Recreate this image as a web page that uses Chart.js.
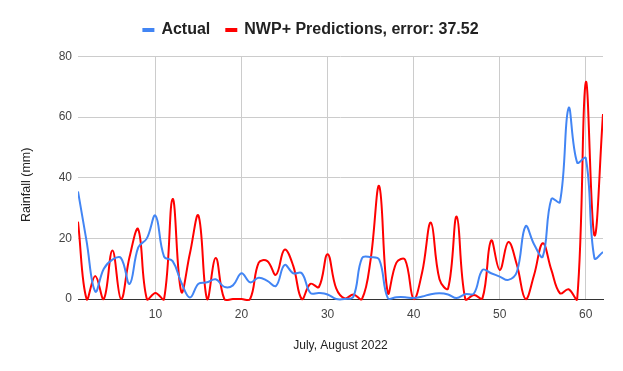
<!DOCTYPE html>
<html>
<head>
<meta charset="utf-8">
<script src="https://cdn.jsdelivr.net/npm/chart.js@4.4.1/dist/chart.umd.min.js"></script>
<style>
  html, body { margin: 0; padding: 0; background: #fff; }
  #wrap { width: 623px; height: 371px; position: relative; }
</style>
</head>
<body>
<div id="wrap"><canvas id="c" width="623" height="371"></canvas></div>
<script>
const days = [1,2,3,4,5,6,7,8,9,10,11,12,13,14,15,16,17,18,19,20,21,22,23,24,25,26,27,28,29,30,31,32,33,34,35,36,37,38,39,40,41,42,43,44,45,46,47,48,49,50,51,52,53,54,55,56,57,58,59,60,61,62];
const actual = [35.5,19,2.5,10,13,13.5,5,17,20,27.5,14,12.5,5.5,0.5,5,5.5,6.5,4,4.5,8.5,5.5,7,6,4.3,11.2,8.5,8.5,2,2,1.5,0,0,0.8,13.5,13.8,13,0.3,0.6,0.6,0.3,0.8,1.6,1.9,1.5,0.3,1.6,1.8,9.6,8.5,7.4,6.3,9,24,18,14,33,32,63,45,46.5,13.5,15.5];
const predicted = [25.5,0,7.6,0,16,0,14,23,0,2,0,33,2.4,15,27.5,0,13.5,0,0,0,0,12,12.5,8,16.3,11,0,5,4,14.8,3.5,0.2,1.5,0,13,37.2,2,12,13,0,9,25.2,6.5,3.5,27.2,0,1.3,0.3,19.3,9.6,18.8,11.2,0,8,18.4,9.6,1.9,3.2,0,71.5,21,61];
const seriesNames = ['Actual', 'NWP+ Predictions, error: 37.52'];
const xTicks = [10,20,30,40,50,60];
const yTicks = [0,20,40,60,80];
const xTitle = 'July, August 2022';
const yTitle = 'Rainfall (mm)';

const toPoints = vals => days.map((d, i) => ({x: d, y: vals[i]}));
const FONT = "'Liberation Sans', Arial, sans-serif";

const layoutTweaks = {
  id: 'layoutTweaks',
  beforeLayout(chart) {
    const lg = chart.legend;
    if (lg && !lg._patched) {
      const f = lg.fit;
      lg.fit = function() { f.call(this); this.height += 8.5; };
      lg._patched = true;
    }
  },
  afterLayout(chart) {
    const lg = chart.legend;
    if (lg) { lg.left += 9.5; lg.right += 9.5; }
    const y = chart.scales.y;
    if (y) { y.top += 7; y.bottom += 7; }
  }
};

new Chart(document.getElementById('c'), {
  type: 'line',
  data: {
    datasets: [
      { label: seriesNames[0], data: toPoints(actual), borderColor: '#4285f4', backgroundColor: '#4285f4', borderWidth: 2, pointRadius: 0, tension: 0.4, capBezierPoints: false, fill: false },
      { label: seriesNames[1], data: toPoints(predicted), borderColor: '#ff0000', backgroundColor: '#ff0000', borderWidth: 2, pointRadius: 0, tension: 0.4, capBezierPoints: false, fill: false }
    ]
  },
  options: {
    responsive: false,
    animation: false,
    devicePixelRatio: 1,
    layout: { padding: { top: 6, right: 20, bottom: 0, left: 0 } },
    plugins: {
      legend: {
        position: 'top',
        labels: {
          boxWidth: 10, boxHeight: 2, padding: 16,
          color: '#222',
          font: { family: FONT, size: 16, weight: 'bold' }
        }
      },
      tooltip: { enabled: false }
    },
    scales: {
      x: {
        type: 'linear',
        min: 1, max: 62,
        afterBuildTicks: s => { s.ticks = xTicks.map(v => ({ value: v })); },
        afterFit: s => { s.height = 72; },
        grid: { color: '#cccccc', drawTicks: false },
        border: { display: true, color: '#333333', width: 1 },
        ticks: { padding: 8, color: '#444', font: { family: FONT, size: 12 }, maxRotation: 0, autoSkip: false },
        title: { display: true, text: xTitle, color: '#222', font: { family: FONT, size: 12 }, padding: { top: 0, bottom: 18 } }
      },
      y: {
        min: 0, max: 80,
        afterBuildTicks: s => { s.ticks = yTicks.map(v => ({ value: v })); },
        afterFit: s => { s.width = 78; },
        grid: { color: ctx => (ctx.tick && ctx.tick.value === 0) ? 'rgba(0,0,0,0)' : '#cccccc', drawTicks: false },
        border: { display: false },
        ticks: { padding: 6, color: '#444', font: { family: FONT, size: 12 } },
        title: { display: true, text: yTitle, color: '#222', font: { family: FONT, size: 12.5 }, padding: { top: 19, bottom: 0 } }
      }
    }
  },
  plugins: [layoutTweaks]
});
</script>
</body>
</html>
